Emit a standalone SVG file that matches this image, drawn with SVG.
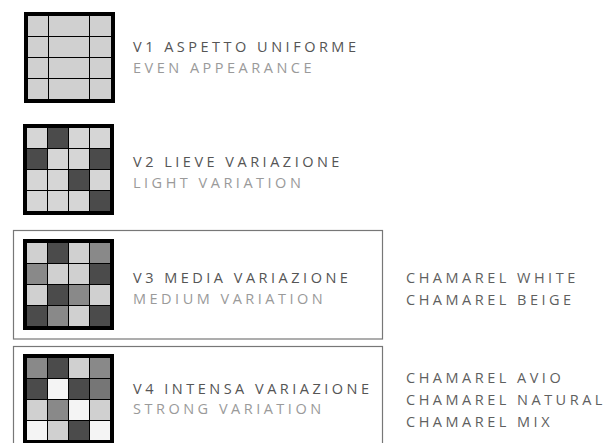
<svg xmlns="http://www.w3.org/2000/svg" width="613" height="443" viewBox="0 0 613 443">
<style>
.t{font-family:"Open Sans","Noto Sans","Liberation Sans",sans-serif;font-size:14.5px;letter-spacing:3.5px}
.a{fill:#555}
.b{fill:#9a9a9a}
.c{fill:#5f5f5f}
.frame{fill:none;stroke:#777;stroke-width:1.2}
.L{fill:#d0d0d0}.D{fill:#4b4b4b}.M{fill:#898989}.W{fill:#f4f4f4}.N{fill:#767676}.K{fill:#d6d6d6}
</style>
<rect width="613" height="443" fill="#fff"/>
<g id="frames">
<rect class="frame" x="13.5" y="230.5" width="369" height="108.5"/>
<rect class="frame" x="13.5" y="346.5" width="369" height="120"/>
</g>
<g id="v1">
<rect x="24" y="12" width="91" height="91" fill="#000"/>
<g class="L">
<rect x="28" y="16" width="20" height="20"/><rect x="49" y="16" width="40" height="20"/><rect x="90" y="16" width="21" height="20"/>
<rect x="28" y="37" width="20" height="20"/><rect x="49" y="37" width="40" height="20"/><rect x="90" y="37" width="21" height="20"/>
<rect x="28" y="58" width="20" height="20"/><rect x="49" y="58" width="40" height="20"/><rect x="90" y="58" width="21" height="20"/>
<rect x="28" y="79" width="20" height="20"/><rect x="49" y="79" width="40" height="20"/><rect x="90" y="79" width="21" height="20"/>
</g>
<text class="t a" x="133" y="52">V1 ASPETTO UNIFORME</text>
<text class="t b" x="133" y="73">EVEN APPEARANCE</text>
</g>
<g id="v2">
<rect x="23" y="124" width="91" height="91" fill="#000"/>
<rect class="K" x="27" y="128" width="20" height="20"/><rect class="D" x="48" y="128" width="20" height="20"/><rect class="K" x="69" y="128" width="20" height="20"/><rect class="K" x="90" y="128" width="20" height="20"/>
<rect class="D" x="27" y="149" width="20" height="20"/><rect class="K" x="48" y="149" width="20" height="20"/><rect class="K" x="69" y="149" width="20" height="20"/><rect class="D" x="90" y="149" width="20" height="20"/>
<rect class="K" x="27" y="170" width="20" height="20"/><rect class="K" x="48" y="170" width="20" height="20"/><rect class="D" x="69" y="170" width="20" height="20"/><rect class="K" x="90" y="170" width="20" height="20"/>
<rect class="K" x="27" y="191" width="20" height="20"/><rect class="K" x="48" y="191" width="20" height="20"/><rect class="K" x="69" y="191" width="20" height="20"/><rect class="D" x="90" y="191" width="20" height="20"/>
<text class="t a" x="133" y="167">V2 LIEVE VARIAZIONE</text>
<text class="t b" x="133" y="188">LIGHT VARIATION</text>
</g>
<g id="v3">
<rect x="23" y="239" width="91" height="91" fill="#000"/>
<rect class="L" x="27" y="243" width="20" height="20"/><rect class="D" x="48" y="243" width="20" height="20"/><rect class="L" x="69" y="243" width="20" height="20"/><rect class="M" x="90" y="243" width="20" height="20"/>
<rect class="M" x="27" y="264" width="20" height="20"/><rect class="L" x="48" y="264" width="20" height="20"/><rect class="L" x="69" y="264" width="20" height="20"/><rect class="D" x="90" y="264" width="20" height="20"/>
<rect class="L" x="27" y="285" width="20" height="20"/><rect class="D" x="48" y="285" width="20" height="20"/><rect class="M" x="69" y="285" width="20" height="20"/><rect class="L" x="90" y="285" width="20" height="20"/>
<rect class="D" x="27" y="306" width="20" height="20"/><rect class="M" x="48" y="306" width="20" height="20"/><rect class="L" x="69" y="306" width="20" height="20"/><rect class="D" x="90" y="306" width="20" height="20"/>
<text class="t a" x="133" y="283">V3 MEDIA VARIAZIONE</text>
<text class="t b" x="133" y="304">MEDIUM VARIATION</text>
<text class="t c" x="406" y="283">CHAMAREL WHITE</text>
<text class="t c" x="406" y="305">CHAMAREL BEIGE</text>
</g>
<g id="v4">
<rect x="23" y="354" width="91" height="91" fill="#000"/>
<rect class="M" x="27" y="358" width="20" height="20"/><rect class="D" x="48" y="358" width="20" height="20"/><rect class="L" x="69" y="358" width="20" height="20"/><rect class="M" x="90" y="358" width="20" height="20"/>
<rect class="D" x="27" y="379" width="20" height="20"/><rect class="W" x="48" y="379" width="20" height="20"/><rect class="D" x="69" y="379" width="20" height="20"/><rect class="N" x="90" y="379" width="20" height="20"/>
<rect class="L" x="27" y="400" width="20" height="20"/><rect class="M" x="48" y="400" width="20" height="20"/><rect class="W" x="69" y="400" width="20" height="20"/><rect class="L" x="90" y="400" width="20" height="20"/>
<rect class="W" x="27" y="421" width="20" height="19"/><rect class="L" x="48" y="421" width="20" height="19"/><rect class="D" x="69" y="421" width="20" height="19"/><rect class="W" x="90" y="421" width="20" height="19"/>
<text class="t a" x="133" y="394">V4 INTENSA VARIAZIONE</text>
<text class="t b" x="133" y="414">STRONG VARIATION</text>
<text class="t c" x="406" y="383">CHAMAREL AVIO</text>
<text class="t c" x="406" y="405">CHAMAREL NATURAL</text>
<text class="t c" x="406" y="427">CHAMAREL MIX</text>
</g>
</svg>
